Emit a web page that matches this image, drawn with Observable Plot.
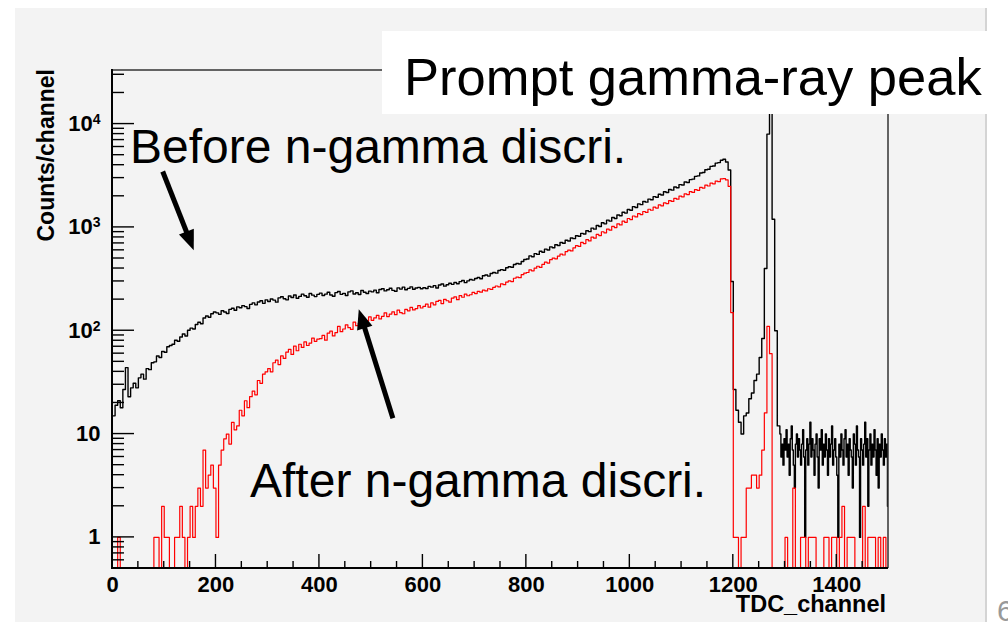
<!DOCTYPE html>
<html><head><meta charset="utf-8">
<script src="https://cdn.jsdelivr.net/npm/d3@7"></script>
<script src="https://cdn.jsdelivr.net/npm/@observablehq/plot@0.6"></script>
<style>
html,body{margin:0;padding:0;background:#fff;}
#page{position:relative;width:1008px;height:624px;overflow:hidden;background:#fff;}
#panel{position:absolute;left:15px;top:8px;width:970px;height:614px;background:#f3f3f3;border-right:2px solid #d4d4d4;}
#chart{position:absolute;left:0;top:0;}
</style></head><body>
<div id="page"><div id="panel"></div><div id="chart"></div></div>
<script>
// ---- data ----
// "Before" (black): counts per 5-channel bin from channel 0 to 1285
const blackCounts = [
  15, 19, 21, 18, 27, 44, 23, 28, 31, 28, 35, 38, 34, 43, 42, 49, 50, 57, 55, 63,
  62, 70, 72, 74, 81, 79, 87, 93, 89, 101, 106, 104, 115, 121, 117, 133, 139, 135, 146, 152,
  149, 144, 156, 152, 147, 161, 165, 158, 170, 167, 175, 171, 164, 180, 186, 178, 190, 195, 184, 199,
  192, 203, 198, 189, 208, 213, 204, 199, 217, 210, 222, 206, 215, 226, 218, 211, 229, 221, 214, 225,
  231, 219, 226, 236, 222, 216, 234, 240, 225, 230, 219, 238, 243, 227, 233, 224, 245, 236, 229, 242,
  238, 247, 233, 251, 255, 243, 249, 258, 246, 241, 260, 253, 264, 249, 257, 266, 252, 259, 263, 255,
  261, 256, 269, 264, 273, 259, 277, 283, 270, 279, 288, 281, 293, 285, 299, 306, 292, 304, 313, 309,
  320, 327, 318, 340, 346, 338, 358, 366, 361, 383, 390, 385, 407, 416, 412, 438, 447, 442, 468, 489,
  495, 530, 520, 558, 548, 588, 575, 616, 605, 648, 636, 680, 668, 714, 702, 752, 738, 790, 778, 830,
  820, 875, 862, 928, 910, 985, 962, 1045, 1022, 1108, 1082, 1175, 1150, 1245, 1220, 1320, 1295, 1400, 1375, 1490,
  1465, 1590, 1560, 1690, 1660, 1780, 1755, 1880, 1850, 1985, 1955, 2095, 2060, 2210, 2175, 2330, 2295, 2460, 2420, 2595,
  2570, 2750, 2720, 2900, 2930, 3120, 3150, 3360, 3400, 3620, 3660, 3900, 3930, 4190, 4240, 4470, 4560, 4300, 3600, 300,
  27, 17, 13, 10, 15, 16, 22, 25, 33, 38, 55, 84, 400, 8000, 15000, 1200, 100, 12
];
// "Before" (black) flat tail: counts per 2-channel bin from channel 1290 to 1498
const blackTail = [
  10, 6, 8, 5, 9, 7, 11, 6, 8, 4, 9, 12, 7, 5, 3, 8, 10, 6, 9, 7,
  5, 8, 11, 6, 1, 7, 9, 5, 8, 13, 6, 9, 7, 4, 8, 10, 6, 3, 9, 7,
  11, 5, 8, 6, 10, 7, 4, 9, 6, 8, 12, 5, 7, 9, 6, 4, 1, 8, 6, 10,
  7, 5, 9, 11, 6, 8, 4, 9, 7, 6, 3, 10, 8, 5, 12, 7, 6, 1, 9, 7,
  5, 8, 13, 6, 9, 2, 7, 10, 5, 8, 6, 11, 7, 4, 9, 3, 8, 6, 10, 7,
  5, 9, 6, 8, 2
];
// "After" (red): counts per 5-channel bin from channel 0 to 1495
const redCounts = [
  0, 0, 1, 0, 0, 0, 0, 0, 0, 0, 0, 0, 0, 0, 0, 0, 1, 1, 0, 2,
  1, 1, 0, 0, 1, 1, 2, 1, 0, 1, 2, 1, 2, 3, 2, 7, 3, 4, 5, 3,
  1, 5, 7, 9, 10, 8, 13, 11, 12, 17, 15, 21, 18, 23, 26, 24, 33, 31, 38, 40,
  43, 40, 49, 52, 47, 57, 54, 62, 66, 59, 71, 64, 74, 69, 78, 72, 76, 85, 79, 83,
  84, 90, 81, 95, 99, 89, 96, 110, 98, 104, 114, 107, 103, 121, 112, 118, 129, 117, 124, 136,
  126, 133, 141, 130, 138, 149, 137, 145, 152, 143, 158, 150, 146, 161, 156, 168, 159, 164, 175, 166,
  172, 181, 169, 186, 178, 192, 197, 183, 201, 195, 189, 207, 213, 200, 219, 211, 226, 218, 223, 235,
  229, 240, 236, 247, 243, 255, 251, 263, 271, 266, 284, 279, 296, 304, 299, 322, 330, 326, 349, 361,
  366, 388, 380, 403, 421, 410, 438, 462, 452, 487, 505, 496, 528, 552, 541, 584, 603, 592, 635, 667,
  655, 715, 698, 760, 740, 806, 786, 855, 834, 908, 886, 962, 940, 1022, 996, 1084, 1058, 1150, 1120, 1220,
  1192, 1290, 1262, 1360, 1330, 1425, 1395, 1498, 1465, 1570, 1540, 1650, 1616, 1730, 1700, 1818, 1785, 1910, 1875, 2010,
  1975, 2115, 2080, 2220, 2180, 2325, 2285, 2440, 2400, 2560, 2515, 2680, 2640, 2810, 2770, 2950, 2960, 2880, 2500, 150,
  1, 1, 0, 1, 1, 3, 3, 4, 4, 3, 4, 7, 16, 110, 60, 0, 0, 0, 0, 0,
  1, 0, 0, 3, 0, 0, 1, 1, 0, 1, 1, 1, 0, 0, 0, 1, 1, 0, 1, 1,
  0, 1, 2, 0, 1, 1, 1, 0, 0, 0, 2, 0, 1, 1, 1, 0, 1, 0, 1, 0
];
const binWidth = 5, tailStart = 1290, tailWidth = 2;
const xDomain = [0, 1500];
const yDomain = [0.5, 33000];
const xTicks = [0, 200, 400, 600, 800, 1000, 1200, 1400];
const xMinorStep = 50;
const yTicks = [1, 10, 100, 1000, 10000];
const xTitle = "TDC_channel";
const yTitle = "Counts/channel";
const labelBefore = "Before n-gamma discri.";
const labelAfter = "After n-gamma discri.";
const labelPeak = "Prompt gamma-ray peak";
// arrows in data coordinates: tail (x1,y1) -> head (x2,y2)
const arrows = [
  {x1: 98, y1: 3440, x2: 158, y2: 595},
  {x1: 543, y1: 14.1, x2: 477, y2: 160}
];

(function () {
  const blackRows = blackCounts.map((v, i) => ({ch: i * binWidth, v}))
    .concat(blackTail.map((v, i) => ({ch: tailStart + i * tailWidth, v})));
  blackRows.push({ch: xDomain[1], v: blackTail[blackTail.length - 1]});
  const redRows = redCounts.map((v, i) => ({ch: i * binWidth, v}));
  redRows.push({ch: xDomain[1], v: redCounts[redCounts.length - 1]});
  const floorV = yDomain[0];
  const font = "'Liberation Sans', Arial, Helvetica, sans-serif";

  const plot = Plot.plot({
    width: 1008, height: 624,
    marginLeft: 112, marginRight: 120, marginTop: 70, marginBottom: 56,
    style: {background: "transparent", fontFamily: font, color: "#000", overflow: "visible"},
    x: {domain: xDomain},
    y: {type: "log", domain: yDomain},
    marks: [
      Plot.line(blackRows, {x: "ch", y: d => Math.max(d.v, floorV), curve: "step-after", stroke: "#000", strokeWidth: 1.4, clip: true}),
      Plot.line(redRows, {x: "ch", y: d => Math.max(d.v, floorV), curve: "step-after", stroke: "#ff0000", strokeWidth: 1.2, clip: true}),
      Plot.axisX({ticks: xTicks, tickSize: 0, tickPadding: 8, fontSize: 22, fontWeight: "bold", label: null, tickFormat: d => String(d)}),
      Plot.axisY({ticks: yTicks, tickSize: 0, tickPadding: 12, fontSize: 22, fontWeight: "bold", label: null,
        tickFormat: d => d < 100 ? String(d) : "10^" + Math.round(Math.log10(d))})
    ]
  });
  document.getElementById("chart").appendChild(plot);

  const svg = d3.select(plot);
  const sx = plot.scale("x"), sy = plot.scale("y");
  const X = v => sx.apply(v), Y = v => sy.apply(v);
  const pL = X(xDomain[0]), pR = X(xDomain[1]), pB = Y(yDomain[0]), pT = Y(yDomain[1]);

  svg.selectAll("g[aria-label='y-axis tick label'] text").each(function () {
    const t = d3.select(this);
    const s = t.text();
    if (s.includes("^")) {
      const [b, e] = s.split("^");
      t.text(null);
      t.append("tspan").text(b);
      t.append("tspan").attr("dy", "-0.5em").attr("font-size", 14).text(e);
    }
  });

  const fr = svg.append("g");
  fr.append("line").attr("x1", pL).attr("x2", pR).attr("y1", pT).attr("y2", pT).attr("stroke", "#333").attr("stroke-width", 1.5);
  fr.append("line").attr("x1", pR).attr("x2", pR).attr("y1", pT).attr("y2", pB).attr("stroke", "#333").attr("stroke-width", 1.5);
  fr.append("line").attr("x1", pL).attr("x2", pL).attr("y1", pT - 1).attr("y2", pB + 1).attr("stroke", "#000").attr("stroke-width", 2);
  fr.append("line").attr("x1", pL - 1).attr("x2", pR).attr("y1", pB).attr("y2", pB).attr("stroke", "#000").attr("stroke-width", 2);

  const tk = svg.append("g").attr("stroke", "#000").attr("stroke-width", 1.4);
  d3.range(xMinorStep, xDomain[1], xMinorStep).forEach(v => {
    const major = xTicks.includes(v);
    tk.append("line").attr("x1", X(v)).attr("x2", X(v)).attr("y1", pB).attr("y2", pB - (major ? 14 : 7));
  });
  for (let k = -1; k <= 4; k++) {
    for (let m = 1; m <= 9; m++) {
      const v = m * Math.pow(10, k);
      if (v < yDomain[0] || v > yDomain[1]) continue;
      const major = m === 1;
      tk.append("line").attr("x1", pL).attr("x2", pL + (major ? 22 : 12)).attr("y1", Y(v)).attr("y2", Y(v));
    }
  }

  const txt = (x, y, s, size, weight, anchor) => svg.append("text").attr("x", x).attr("y", y)
    .attr("text-anchor", anchor || "start").attr("font-family", font).attr("font-size", size)
    .attr("font-weight", weight || "normal").attr("fill", "#000").text(s);

  svg.append("text").attr("transform", `translate(54,${pT - 1}) rotate(-90)`).attr("text-anchor", "end")
    .attr("font-family", font).attr("font-weight", "bold").attr("font-size", 23).attr("fill", "#000").text(yTitle);
  txt(pR - 2, 612, xTitle, 23.5, "bold", "end");

  svg.append("rect").attr("x", 382).attr("y", 31).attr("width", 608).attr("height", 83).attr("fill", "#fff");
  txt(404, 95, labelPeak, 52.5);
  txt(130, 163, labelBefore, 48);
  txt(250, 497, labelAfter, 48);

  const ag = svg.append("g");
  arrows.forEach(a => {
    const x1 = X(a.x1), y1 = Y(a.y1), x2 = X(a.x2), y2 = Y(a.y2);
    const dx = x2 - x1, dy = y2 - y1, L = Math.hypot(dx, dy), ux = dx / L, uy = dy / L;
    const hl = 20, hw = 8;
    const bx = x2 - ux * hl, by = y2 - uy * hl;
    ag.append("line").attr("x1", x1).attr("y1", y1).attr("x2", bx + ux * 2).attr("y2", by + uy * 2)
      .attr("stroke", "#000").attr("stroke-width", 5);
    ag.append("polygon").attr("points", [[x2, y2], [bx - uy * hw, by + ux * hw], [bx + uy * hw, by - ux * hw]].map(p => p.join(",")).join(" "))
      .attr("fill", "#000");
  });

  svg.append("text").attr("x", 997).attr("y", 621).attr("text-anchor", "start").attr("font-family", font)
    .attr("font-size", 30).attr("fill", "#999").text("6");
})();
</script>
</body></html>
